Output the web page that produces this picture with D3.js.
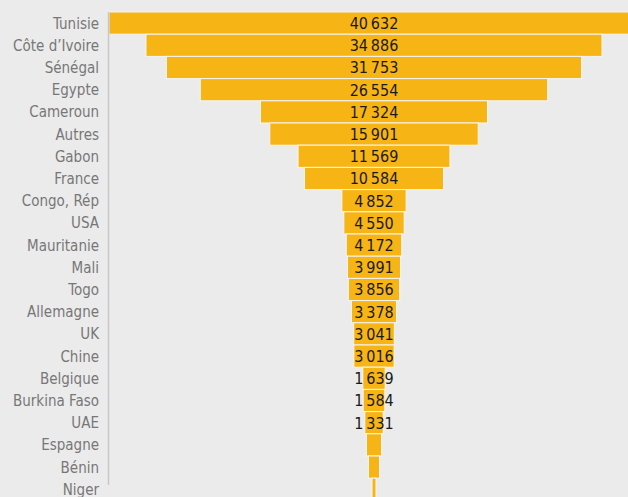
<!DOCTYPE html>
<html>
<head>
<meta charset="utf-8">
<script src="https://cdn.jsdelivr.net/npm/d3@7"></script>
<style>
  html, body { margin: 0; padding: 0; background: #ebebeb; overflow: hidden; }
  svg { display: block; }
</style>
</head>
<body>
<div id="container"></div>
<script>
/* CONSTANTS AND GLOBALS */
const width = 628;
const height = 497;
const fontFam = "'DejaVu Sans Condensed', 'Liberation Sans Narrow', sans-serif";

/* DATA */
const countries = ["Tunisie", "Côte d’Ivoire", "Sénégal", "Egypte", "Cameroun", "Autres", "Gabon", "France",
  "Congo, Rép", "USA", "Mauritanie ", "Mali", "Togo ", "Allemagne", "UK", "Chine", "Belgique",
  "Burkina Faso", "UAE", "Espagne", "Bénin", "Niger"];
const values = [40632, 34886, 31753, 26554, 17324, 15901, 11569, 10584, 4852, 4550, 4172, 3991, 3856,
  3378, 3041, 3016, 1639, 1584, 1331, 1080, 770, 230];

const data = countries.map((c, i) => ({ country: c, value: values[i] }));

// plot area (the original goes a little past the right / bottom edge)
const plotLeft = 110, plotTop = 12, step = 22.2;
const cx = 374; // funnel centre line

const xScale = d3.scaleLinear()
  .domain([0, d3.max(values)])
  .range([0, 530]);

const yScale = d3.scaleBand()
  .domain(countries)
  .range([plotTop, plotTop + step * countries.length])
  .paddingInner(0);

const fmt = d3.formatLocale({ decimal: ",", thousands: "\u2009", grouping: [3], currency: ["", " €"] }).format(",d");

/* SVG */
const svg = d3.select("#container")
  .append("svg")
  .attr("width", width)
  .attr("height", height);

svg.append("rect")
  .attr("width", width)
  .attr("height", height)
  .attr("fill", "#ebebeb");

// bars
svg.selectAll(".bar")
  .data(data)
  .enter()
  .append("rect")
  .attr("class", "bar")
  .attr("x", d => cx - xScale(d.value) / 2 - 0.5)
  .attr("y", d => yScale(d.country))
  .attr("width", d => xScale(d.value) + 1)
  .attr("height", yScale.bandwidth())
  .attr("fill", "#f7b515")
  .attr("stroke", "#f6f6f6")
  .attr("stroke-width", 1);

// y axis line (drawn over the bars, as in the original)
svg.append("rect")
  .attr("x", 0).attr("y", 0)
  .attr("width", plotLeft - 0.5).attr("height", height)
  .attr("fill", "#ebebeb");

svg.append("line")
  .attr("x1", plotLeft - 1.5).attr("x2", plotLeft - 1.5)
  .attr("y1", plotTop).attr("y2", 485)
  .attr("stroke", "#c8c8c8")
  .attr("stroke-width", 1.5);

// category labels
svg.selectAll(".cat")
  .data(data)
  .enter()
  .append("text")
  .attr("class", "cat")
  .attr("x", 99)
  .attr("y", d => yScale(d.country) + yScale.bandwidth() / 2)
  .attr("dy", "0.36em")
  .attr("text-anchor", "end")
  .style("font-family", fontFam)
  .style("font-size", "15px")
  .attr("fill", "#777777")
  .text(d => d.country);

// value labels (small ones are left out, as in the original)
svg.selectAll(".val")
  .data(data.filter(d => d.value >= 1300))
  .enter()
  .append("text")
  .attr("class", "val")
  .attr("x", cx)
  .attr("y", d => yScale(d.country) + yScale.bandwidth() / 2)
  .attr("dy", "0.37em")
  .attr("text-anchor", "middle")
  .style("font-family", fontFam)
  .style("font-size", "16px")
  .attr("fill", "#1a1a1a")
  .text(d => fmt(d.value));
</script>
</body>
</html>
